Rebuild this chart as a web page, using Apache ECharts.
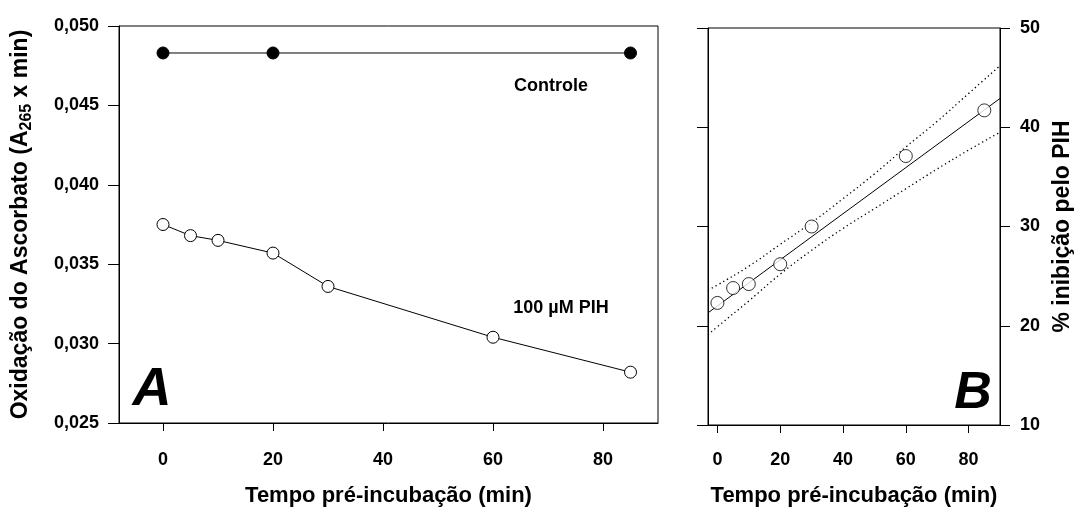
<!DOCTYPE html>
<html><head><meta charset="utf-8">
<script src="https://cdn.jsdelivr.net/npm/echarts@6/dist/echarts.min.js"></script>
<style>html,body{margin:0;padding:0;background:#fff}#c{width:1082px;height:512px}</style>
</head><body><div id="c"></div>
<script>
// ---- data ----
const timeA = [0, 5, 10, 20, 30, 60, 85];
const pihA = [0.0375, 0.0368, 0.0365, 0.0357, 0.0336, 0.0304, 0.0282];
const controlTime = [0, 20, 85];
const controlA = [0.0483, 0.0483, 0.0483];
const timeB = [0, 5, 10, 20, 30, 60, 85];
const inhibB = [22.3, 23.8, 24.2, 26.2, 30.0, 37.1, 41.7];
const fitX = [-3, 90];
const fitY = [21.3, 42.9];
const bandX = [-3, 0, 10, 20, 30, 40, 50, 60, 70, 80, 90];
const upperY = [23.6, 24.1, 26.0, 28.2, 30.4, 32.8, 35.3, 38.0, 40.6, 43.4, 46.2];
const lowerY = [19.1, 19.9, 22.5, 25.2, 27.6, 29.8, 31.8, 33.8, 35.8, 37.7, 39.5];
const xTicks = [0, 20, 40, 60, 80];
const yTicksA = [0.025, 0.030, 0.035, 0.040, 0.045, 0.050];
const yTicksB = [10, 20, 30, 40, 50];
const labelControl = 'Controle';
const labelPIH = '100 µM PIH';
const xTitle = 'Tempo pré-incubação (min)';
const yTitleB = '% inibição pelo PIH';

const FONT = 'Liberation Sans';
const black = '#000';
const zip = (xs, ys) => xs.map((x, i) => [x, ys[i]]);

const chart = echarts.init(document.getElementById('c'), null, {renderer: 'canvas'});
const tickLbl = {color: black, fontFamily: FONT, fontWeight: 'bold', fontSize: 18};
const axisTitle = {color: black, fontFamily: FONT, fontWeight: 'bold', fontSize: 22};
const axisTitleY = {color: black, fontFamily: FONT, fontWeight: 'bold', fontSize: 23};

chart.setOption({
  animation: false,
  backgroundColor: '#fff',
  grid: [
    {left: 119, top: 26, width: 539, height: 400, show: true, borderColor: black, borderWidth: 1, backgroundColor: 'transparent'},
    {left: 708, top: 28, width: 292, height: 400, show: true, borderColor: black, borderWidth: 1, backgroundColor: 'transparent'}
  ],
  xAxis: [
    {gridIndex: 0, type: 'value', min: -8, max: 90,
     axisLine: {onZero: false, lineStyle: {color: black, width: 1}},
     axisTick: {inside: false, length: 8, customValues: xTicks, lineStyle: {color: black}},
     axisLabel: Object.assign({margin: 28, customValues: xTicks}, tickLbl),
     splitLine: {show: false},
     name: xTitle, nameLocation: 'middle', nameGap: 62, nameTextStyle: axisTitle},
    {gridIndex: 1, type: 'value', min: -3, max: 90,
     axisLine: {onZero: false, lineStyle: {color: black, width: 1}},
     axisTick: {inside: false, length: 8, customValues: xTicks, lineStyle: {color: black}},
     axisLabel: Object.assign({margin: 26, customValues: xTicks}, tickLbl),
     splitLine: {show: false},
     name: xTitle, nameLocation: 'middle', nameGap: 60, nameTextStyle: axisTitle}
  ],
  yAxis: [
    {gridIndex: 0, type: 'value', position: 'left', min: 0.025, max: 0.050,
     axisLine: {show: true, onZero: false, lineStyle: {color: black, width: 1}},
     axisTick: {show: true, inside: false, length: 11, customValues: yTicksA, lineStyle: {color: black}},
     axisLabel: Object.assign({margin: 20, customValues: yTicksA,
       formatter: v => Number(v).toFixed(3).replace('.', ',')}, tickLbl),
     splitLine: {show: false},
     name: '{a|Oxidação do Ascorbato (A}{s|265}{a| x min)}',
     nameLocation: 'middle', nameGap: 84, nameRotate: 90,
     nameTextStyle: {
       rich: {
         a: {color: black, fontFamily: FONT, fontWeight: 'bold', fontSize: 23, lineHeight: 25, padding: [0, 0, 4, 0]},
         s: {color: black, fontFamily: FONT, fontWeight: 'bold', fontSize: 16, lineHeight: 16, verticalAlign: 'bottom'}
       }
     }},
    {gridIndex: 1, type: 'value', position: 'left', min: 10, max: 50,
     axisLine: {show: true, onZero: false, lineStyle: {color: black, width: 1}},
     axisTick: {show: true, inside: false, length: 11, customValues: yTicksB, lineStyle: {color: black}},
     axisLabel: {show: false},
     splitLine: {show: false}},
    {gridIndex: 1, type: 'value', position: 'right', min: 10, max: 50,
     axisLine: {show: true, onZero: false, lineStyle: {color: black, width: 1}},
     axisTick: {show: true, inside: false, length: 10, customValues: yTicksB, lineStyle: {color: black}},
     axisLabel: Object.assign({margin: 20, customValues: yTicksB}, tickLbl),
     splitLine: {show: false},
     name: yTitleB, nameLocation: 'middle', nameGap: 51, nameRotate: 90, nameTextStyle: axisTitleY}
  ],
  series: [
    {type: 'line', xAxisIndex: 0, yAxisIndex: 0, data: zip(controlTime, controlA),
     symbol: 'circle', symbolSize: 12, lineStyle: {color: black, width: 1},
     itemStyle: {color: black, borderColor: black, borderWidth: 1}, z: 3},
    {type: 'line', xAxisIndex: 0, yAxisIndex: 0, data: zip(timeA, pihA),
     symbol: 'circle', symbolSize: 12, lineStyle: {color: black, width: 1},
     itemStyle: {color: '#fff', borderColor: black, borderWidth: 1}, z: 3},
    {type: 'line', xAxisIndex: 1, yAxisIndex: 2, data: zip(fitX, fitY),
     symbol: 'none', lineStyle: {color: black, width: 1}, z: 2},
    {type: 'line', xAxisIndex: 1, yAxisIndex: 2, data: zip(bandX, upperY), smooth: true,
     symbol: 'none', lineStyle: {color: black, width: 1.3, type: [1.3, 3]}, z: 2},
    {type: 'line', xAxisIndex: 1, yAxisIndex: 2, data: zip(bandX, lowerY), smooth: true,
     symbol: 'none', lineStyle: {color: black, width: 1.3, type: [1.3, 3]}, z: 2},
    {type: 'scatter', xAxisIndex: 1, yAxisIndex: 2, data: zip(timeB, inhibB),
     symbol: 'circle', symbolSize: 13,
     itemStyle: {color: '#fff', borderColor: black, borderWidth: 1}, z: 4}
  ],
  graphic: [
    {type: 'text', x: 551, y: 86, style: {text: labelControl, fill: black, font: 'bold 18px "Liberation Sans"', align: 'center', verticalAlign: 'middle'}},
    {type: 'text', x: 561, y: 308, style: {text: labelPIH, fill: black, font: 'bold 18px "Liberation Sans"', align: 'center', verticalAlign: 'middle'}},
    {type: 'text', x: 152, y: 390, style: {text: 'A', fill: black, font: 'italic bold 54px "Liberation Sans"', align: 'center', verticalAlign: 'middle'}},
    {type: 'text', x: 973, y: 394, style: {text: 'B', fill: black, font: 'italic bold 52px "Liberation Sans"', align: 'center', verticalAlign: 'middle'}}
  ]
});
</script>
</body></html>
